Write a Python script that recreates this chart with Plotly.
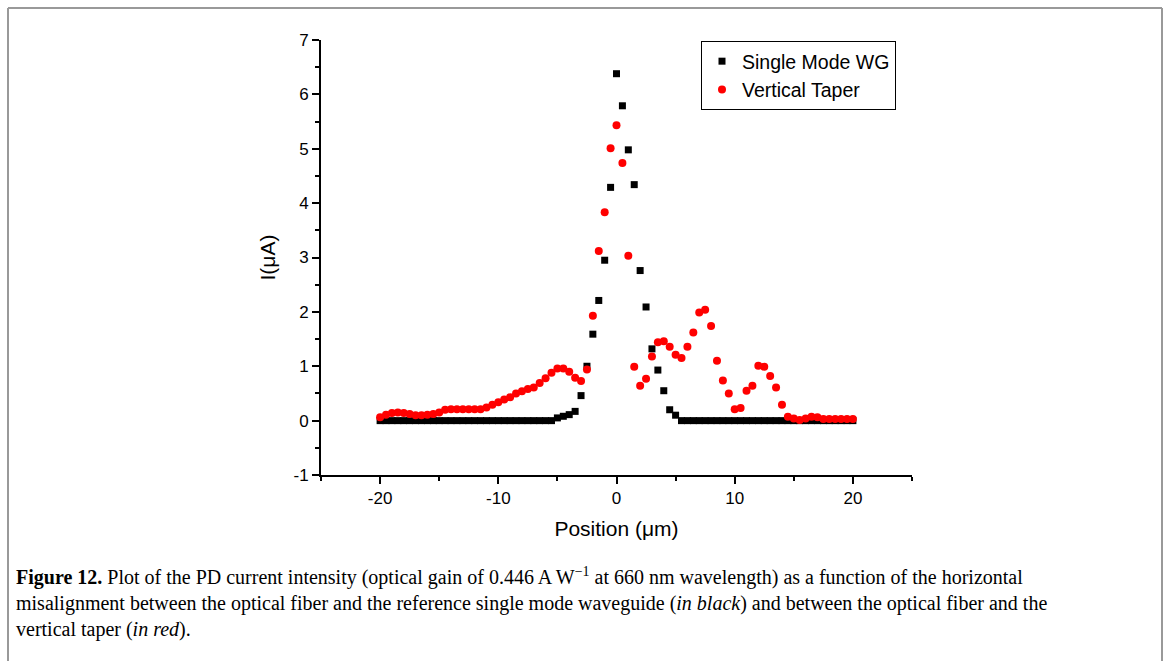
import numpy as np
import plotly.graph_objects as go

# Position (µm), 0.5 µm step from -20 to 20
position = list(np.linspace(-20, 20, 81))

single_mode_wg = [
    0, 0, 0, 0, 0, 0, 0, 0, 0, 0,
    0, 0, 0, 0, 0, 0, 0, 0, 0, 0,
    0, 0, 0, 0, 0, 0, 0, 0, 0, 0,
    0.05, 0.08, 0.11, 0.17, 0.46, 1.00, 1.59, 2.21, 2.95, 4.29,
    6.38, 5.79, 4.98, 4.34, 2.76, 2.09, 1.32, 0.93, 0.55, 0.20,
    0.10,
    0, 0, 0, 0, 0, 0, 0, 0, 0, 0,
    0, 0, 0, 0, 0, 0, 0, 0, 0, 0,
    0, 0, 0, 0, 0, 0, 0, 0, 0, 0,
]

vertical_taper = [
    0.06, 0.11, 0.14, 0.15, 0.14, 0.12, 0.10, 0.10, 0.11, 0.12,
    0.15, 0.20, 0.21, 0.21, 0.21, 0.21, 0.21, 0.21, 0.24, 0.29,
    0.34, 0.39, 0.43, 0.50, 0.54, 0.58, 0.61, 0.69, 0.78, 0.88,
    0.96, 0.96, 0.90, 0.79, 0.73, 0.94, 1.93, 3.12, 3.83, 5.01,
    5.43, 4.74, 3.03, 0.99, 0.64, 0.77, 1.18, 1.44, 1.46, 1.36,
    1.21, 1.15, 1.36, 1.62, 1.99, 2.04, 1.74, 1.10, 0.74, 0.50,
    0.21, 0.23, 0.55, 0.64, 1.01, 0.99, 0.82, 0.61, 0.29, 0.07,
    0.04, 0.01, 0.04, 0.07, 0.06, 0.03, 0.03, 0.03, 0.03, 0.03,
    0.03,
]

x_ticks = [-20, -10, 0, 10, 20]
y_ticks = [-1, 0, 1, 2, 3, 4, 5, 6, 7]

caption_lines = [
    "<b>Figure 12.</b> Plot of the PD current intensity (optical gain of 0.446 A W<sup>\u22121</sup> at 660 nm wavelength) as a function of the horizontal",
    "misalignment between the optical fiber and the reference single mode waveguide (<i>in black</i>) and between the optical fiber and the",
    "vertical taper (<i>in red</i>).",
]

W, H = 1170, 661
L, R, T, B = 321, 912, 40, 475

SANS = "Liberation Sans, Arial, sans-serif"

fig = go.Figure()
fig.add_trace(go.Scatter(
    x=position, y=single_mode_wg, mode="markers", name="Single Mode WG",
    marker=dict(symbol="square", size=7, color="black"),
))
fig.add_trace(go.Scatter(
    x=position, y=vertical_taper, mode="markers", name="Vertical Taper",
    marker=dict(symbol="circle", size=8, color="#ff0000"),
))

tick_font = dict(family=SANS, size=17, color="black")

fig.update_layout(
    width=W, height=H,
    margin=dict(l=L, r=W - R, t=T, b=H - B, pad=0),
    paper_bgcolor="white", plot_bgcolor="white",
    font=dict(family=SANS, size=17, color="black"),
    showlegend=True,
    legend=dict(
        x=(701 - L) / (R - L), y=1 - (41 - T) / (B - T),
        xanchor="left", yanchor="top",
        bordercolor="black", borderwidth=1, bgcolor="white",
        font=dict(family=SANS, size=19.5, color="black"),
        tracegroupgap=0, itemwidth=30,
    ),
    xaxis=dict(
        range=[-25, 25], tickvals=x_ticks, ticktext=[str(v) for v in x_ticks],
        showgrid=False, zeroline=False, showline=True, linecolor="black", linewidth=2,
        ticks="outside", ticklen=7, tickwidth=2, tickcolor="black",
        minor=dict(tickvals=[-25, -15, -5, 5, 15, 25], ticks="outside", ticklen=4, tickwidth=2, tickcolor="black"),
        tickfont=tick_font,
        title=dict(text="Position (\u03bcm)", font=dict(family=SANS, size=21, color="black"), standoff=14),
        fixedrange=True,
    ),
    yaxis=dict(
        range=[-1, 7], tickvals=y_ticks, ticktext=[str(v) for v in y_ticks],
        showgrid=False, zeroline=False, showline=True, linecolor="black", linewidth=2,
        ticks="outside", ticklen=7, tickwidth=2, tickcolor="black",
        minor=dict(dtick=0.5, tick0=0.5, ticks="outside", ticklen=4, tickwidth=2, tickcolor="black"),
        tickfont=tick_font,
        title=dict(text="I(\u03bcA)", font=dict(family=SANS, size=21, color="black"), standoff=12),
        fixedrange=True,
    ),
)

# Outer gray frame
for (x0, y0, x1, y1) in [(8, 8, 1162, 8), (8, 8, 8, 661), (1162, 8, 1162, 661)]:
    fig.add_shape(type="line", xref="paper", yref="paper",
                  x0=(x0 - L) / (R - L), x1=(x1 - L) / (R - L),
                  y0=1 - (y0 - T) / (B - T), y1=1 - (y1 - T) / (B - T),
                  line=dict(color="#999999", width=2))

# Caption (one multi-line text block)
fig.add_annotation(
    text="<br>".join(caption_lines), xref="paper", yref="paper",
    x=(14 - L) / (R - L), y=1 - (602 - T) / (B - T),
    xanchor="left", yanchor="middle", align="left", showarrow=False,
    font=dict(family="Liberation Serif, Times New Roman, serif", size=20, color="black"),
)

fig.write_html(
    "out.html",
    config={"displayModeBar": False},
    post_script="document.body.style.margin='0px';document.body.style.overflow='hidden';",
)
